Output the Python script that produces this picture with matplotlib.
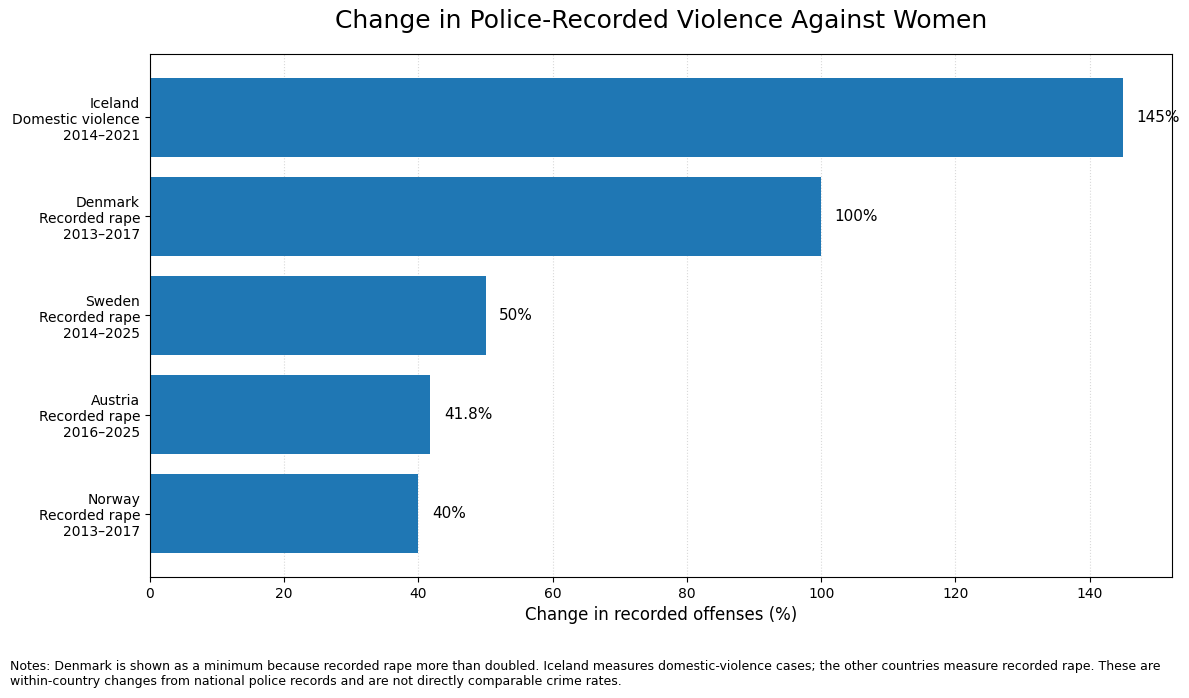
import matplotlib
matplotlib.use("Agg")
import matplotlib.pyplot as plt

labels = [
    "Iceland\nDomestic violence\n2014\u20132021",
    "Denmark\nRecorded rape\n2013\u20132017",
    "Sweden\nRecorded rape\n2014\u20132025",
    "Austria\nRecorded rape\n2016\u20132025",
    "Norway\nRecorded rape\n2013\u20132017",
]
values = [145, 100, 50, 41.8, 40]
value_text = ["145%", "100%", "50%", "41.8%", "40%"]

notes = ("Notes: Denmark is shown as a minimum because recorded rape more than doubled. Iceland measures "
         "domestic-violence cases; the other countries measure recorded rape. These are\n"
         "within-country changes from national police records and are not directly comparable crime rates.")

fig, ax = plt.subplots(figsize=(11.89, 6.98), dpi=100)
fig.subplots_adjust(left=0.126, right=0.9857, top=0.9226, bottom=0.1734)

ypos = range(len(labels))
ax.barh(ypos, values, color="#1f77b4", zorder=2)
ax.set_yticks(list(ypos))
ax.set_yticklabels(labels, fontsize=10)
ax.invert_yaxis()
ax.set_xlim(0, max(values) * 1.05)

for y, v, t in zip(ypos, values, value_text):
    ax.text(v + 2, y, t, va="center", ha="left", fontsize=11)

ax.grid(axis="x", linestyle=":", color="#d9d9d9", linewidth=0.8, zorder=0)
ax.set_axisbelow(True)
ax.set_xlabel("Change in recorded offenses (%)", fontsize=12)
ax.set_title("Change in Police-Recorded Violence Against Women", fontsize=18, pad=19)

fig.text(0.0084, 0.015, notes, fontsize=9, ha="left", va="bottom")

fig.savefig("out.png", dpi=100)
